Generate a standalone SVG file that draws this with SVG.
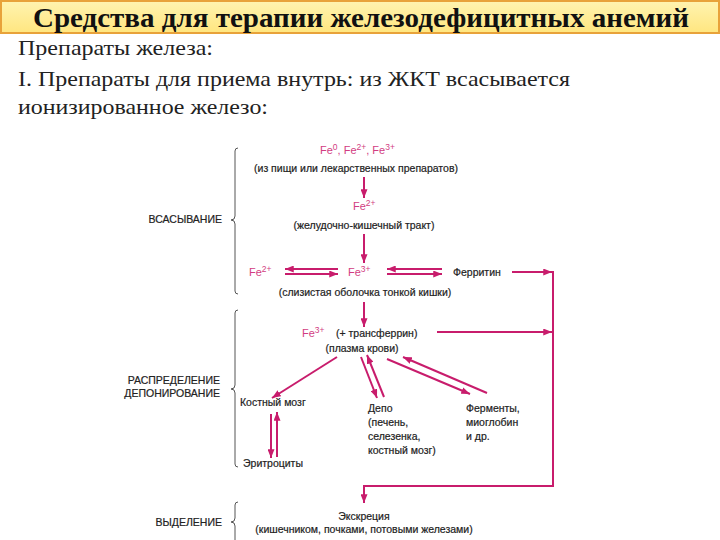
<svg xmlns="http://www.w3.org/2000/svg" width="720" height="540" viewBox="0 0 720 540">
<defs>
<linearGradient id="tb" x1="0" y1="0" x2="0" y2="1">
<stop offset="0" stop-color="#FFF3B0"/>
<stop offset="1" stop-color="#FFE680"/>
</linearGradient>
<marker id="ah" viewBox="0 0 10 8" refX="10" refY="4" markerWidth="9" markerHeight="7" markerUnits="userSpaceOnUse" orient="auto">
<path d="M0,0 L10,4 L0,8 Z" fill="#C81C6C"/>
</marker>
<style>
.ttl{font-family:"Liberation Serif",serif;font-weight:bold;font-size:28px;fill:#111}
.body{font-family:"Liberation Serif",serif;font-size:21px;fill:#222}
.t{font-family:"Liberation Sans",Arial,sans-serif;font-size:10.5px;fill:#222;stroke:#222;stroke-width:0.2}
.fe{font-family:"Liberation Sans",Arial,sans-serif;font-size:11px;fill:#D23C82}
.sup{font-size:8.5px}
.lbl{font-family:"Liberation Sans",Arial,sans-serif;font-size:10.5px;fill:#222;stroke:#222;stroke-width:0.2;text-anchor:end}
.a{stroke:#C81C6C;stroke-width:2;fill:none;marker-end:url(#ah)}
.br{stroke:#555;stroke-width:1;fill:none}
</style>
</defs>
<rect x="0" y="0" width="720" height="540" fill="#fff"/>
<g id="title">
<rect x="1" y="1" width="718" height="32" fill="url(#tb)" stroke="#E8A23A" stroke-width="2"/>
<text class="ttl" x="361" y="27" text-anchor="middle" textLength="656" lengthAdjust="spacingAndGlyphs">Средства для терапии железодефицитных анемий</text>
</g>
<g id="intro">
<text class="body" x="18" y="55" textLength="195" lengthAdjust="spacingAndGlyphs">Препараты железа:</text>
<text class="body" x="18" y="86" textLength="552" lengthAdjust="spacingAndGlyphs">I. Препараты для приема внутрь: из ЖКТ всасывается</text>
<text class="body" x="18" y="114" textLength="250" lengthAdjust="spacingAndGlyphs">ионизированное железо:</text>
</g>
<g id="braces">
<path class="br" d="M238,148 Q235,148 235,151 L235,216 Q235,220 231,220 Q235,220 235,224 L235,291 Q235,294 238,294"/>
<text class="lbl" x="222" y="223">ВСАСЫВАНИЕ</text>
<path class="br" d="M238,310 Q235,310 235,313 L235,385 Q235,389 231,389 Q235,389 235,393 L235,464 Q235,467 238,467"/>
<text class="lbl" x="220" y="384">РАСПРЕДЕЛЕНИЕ</text>
<text class="lbl" x="220" y="397">ДЕПОНИРОВАНИЕ</text>
<path class="br" d="M238,502 Q235,502 235,505 L235,518 Q235,522 231,522 Q235,522 235,526 L235,541"/>
<text class="lbl" x="222" y="526">ВЫДЕЛЕНИЕ</text>
</g>
<g id="n-source">
<text class="fe" x="320" y="154">Fe<tspan class="sup" dy="-4">0</tspan><tspan dy="4">, Fe</tspan><tspan class="sup" dy="-4">2+</tspan><tspan dy="4">, Fe</tspan><tspan class="sup" dy="-4">3+</tspan></text>
<text class="t" x="356" y="172" text-anchor="middle">(из пищи или лекарственных препаратов)</text>
</g>
<g id="n-gut">
<text class="fe" x="353" y="210">Fe<tspan class="sup" dy="-4">2+</tspan></text>
<text class="t" x="364" y="229" text-anchor="middle">(желудочно-кишечный тракт)</text>
</g>
<g id="n-fe2">
<text class="fe" x="249" y="276">Fe<tspan class="sup" dy="-4">2+</tspan></text>
</g>
<g id="n-fe3">
<text class="fe" x="348" y="276">Fe<tspan class="sup" dy="-4">3+</tspan></text>
<text class="t" x="365" y="296" text-anchor="middle">(слизистая оболочка тонкой кишки)</text>
</g>
<g id="n-ferritin">
<text class="t" x="453" y="276">Ферритин</text>
</g>
<g id="n-plasma">
<text class="fe" x="302" y="337">Fe<tspan class="sup" dy="-4">3+</tspan></text>
<text class="t" x="336" y="337">(+ трансферрин)</text>
<text class="t" x="362" y="352" text-anchor="middle">(плазма крови)</text>
</g>
<g id="n-marrow">
<text class="t" x="240" y="406">Костный мозг</text>
</g>
<g id="n-depot">
<text class="t" x="368" y="412">Депо</text>
<text class="t" x="368" y="426">(печень,</text>
<text class="t" x="368" y="440">селезенка,</text>
<text class="t" x="368" y="454">костный мозг)</text>
</g>
<g id="n-enzymes">
<text class="t" x="466" y="412">Ферменты,</text>
<text class="t" x="466" y="426">миоглобин</text>
<text class="t" x="466" y="440">и др.</text>
</g>
<g id="n-rbc">
<text class="t" x="243" y="467">Эритроциты</text>
</g>
<g id="n-excretion">
<text class="t" x="364" y="520" text-anchor="middle">Экскреция</text>
<text class="t" x="364" y="533" text-anchor="middle">(кишечником, почками, потовыми железами)</text>
</g>
<g id="connectors">
<line class="a" x1="364" y1="177" x2="364" y2="198"/>
<line class="a" x1="364" y1="234" x2="364" y2="263"/>
<line class="a" x1="338" y1="269" x2="285" y2="269"/>
<line class="a" x1="285" y1="274" x2="338" y2="274"/>
<line class="a" x1="442" y1="269" x2="387" y2="269"/>
<line class="a" x1="387" y1="274" x2="442" y2="274"/>
<line class="a" x1="512" y1="272" x2="552" y2="272"/>
<line class="a" x1="364" y1="302" x2="364" y2="327"/>
<line class="a" x1="437" y1="332" x2="552" y2="332"/>
<path class="a" d="M553,271 V486 H364 V503"/>
<line class="a" x1="337" y1="357" x2="272" y2="398"/>
<line class="a" x1="361" y1="357" x2="377" y2="398"/>
<line class="a" x1="384" y1="397" x2="367" y2="355"/>
<line class="a" x1="387" y1="359" x2="470" y2="394"/>
<line class="a" x1="487" y1="393" x2="403" y2="357"/>
<line class="a" x1="271" y1="414" x2="271" y2="458"/>
<line class="a" x1="277" y1="457" x2="277" y2="412"/>
</g>
</svg>
